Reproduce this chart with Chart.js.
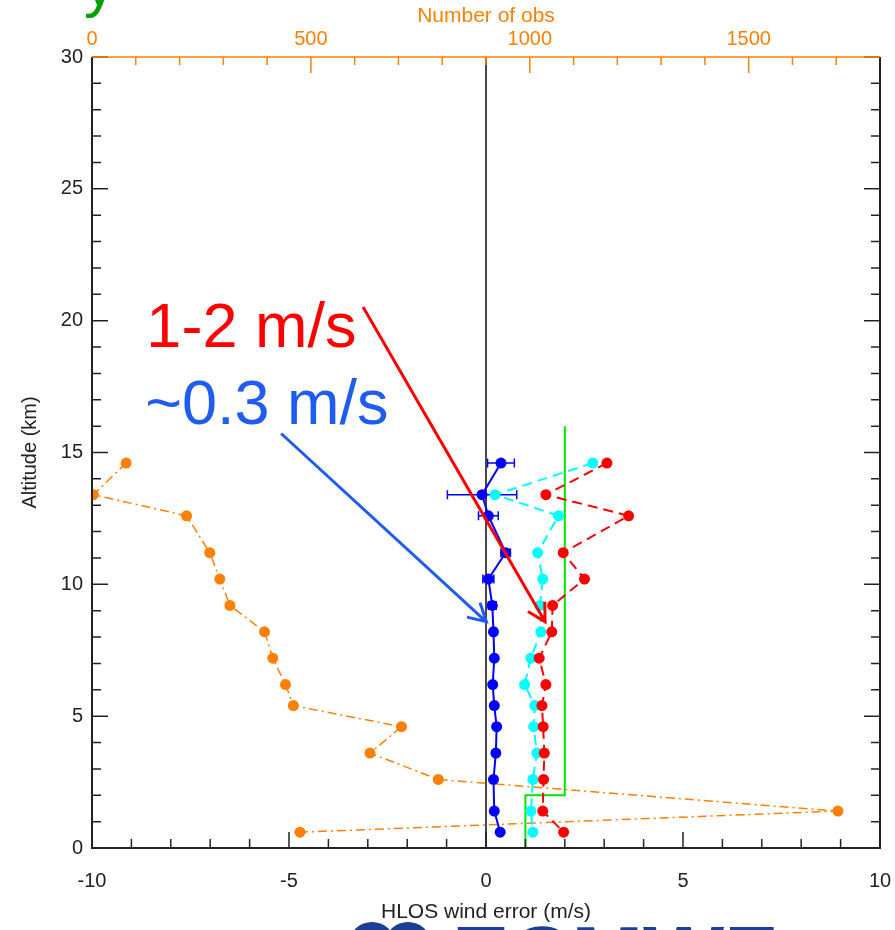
<!DOCTYPE html>
<html>
<head>
<meta charset="utf-8">
<script src="https://cdn.jsdelivr.net/npm/chart.js@4/dist/chart.umd.min.js"></script>
<style>
  html, body { margin: 0; padding: 0; background: #ffffff; }
  canvas { display: block; }
</style>
</head>
<body>
<canvas id="profile" width="895" height="930"></canvas>
<script>
// Altitude levels of the profile (km)
const altitudes = [14.6, 13.4, 12.6, 11.2, 10.2, 9.2, 8.2, 7.2, 6.2, 5.4, 4.6, 3.6, 2.6, 1.4, 0.6];
// Mean HLOS wind error (m/s) and its uncertainty
const meanError = [0.38, -0.10, 0.06, 0.50, 0.06, 0.16, 0.19, 0.21, 0.17, 0.21, 0.27, 0.25, 0.19, 0.21, 0.36];
const meanSpread = [0.34, 0.88, 0.25, 0.12, 0.14, 0.10, 0.06, 0.05, 0.05, 0.05, 0.05, 0.05, 0.05, 0.05, 0.05];
// Standard deviations of the two comparisons (m/s)
const stdCyan = [2.71, 0.23, 1.84, 1.31, 1.44, 1.37, 1.39, 1.14, 0.98, 1.24, 1.21, 1.29, 1.19, 1.14, 1.19];
const stdRed = [3.07, 1.52, 3.62, 1.96, 2.50, 1.69, 1.67, 1.35, 1.52, 1.42, 1.45, 1.48, 1.46, 1.44, 1.97];
// Number of observations per level (top axis)
const obsCount = [78, 3, 216, 269, 292, 315, 394, 413, 442, 460, 707, 635, 791, 1704, 475];
// Requirement step line
const reqX = [1, 1, 2, 2];
const reqY = [0, 2, 2, 16];
// Zero reference
const zeroX = [0, 0];
const zeroY = [0, 30];
// Axis ranges and labelled ticks
const errRange = [-10, 10];
const altRange = [0, 30];
const obsRange = [0, 1800];
const errLabelEvery = 5;
const altLabelEvery = 5;
const obsLabelEvery = 500;

const FONT = "'Liberation Sans', Arial, Helvetica, sans-serif";
const ORANGE = '#ff8000';
const BLUE_TXT = '#1e5cf2';

const pts = (xs, ys) => xs.map((x, i) => ({ x: x, y: ys[i] }));

// Horizontal error bars on the mean-error profile
const errorBars = {
  id: 'errorBars',
  beforeDatasetsDraw(chart) {
    const { ctx, scales: { x, y } } = chart;
    ctx.save();
    ctx.strokeStyle = '#0000ff';
    ctx.lineWidth = 1.5;
    meanError.forEach((m, i) => {
      const py = y.getPixelForValue(altitudes[i]);
      const x0 = x.getPixelForValue(m - meanSpread[i]);
      const x1 = x.getPixelForValue(m + meanSpread[i]);
      ctx.beginPath();
      ctx.moveTo(x0, py); ctx.lineTo(x1, py);
      ctx.moveTo(x0, py - 4.5); ctx.lineTo(x0, py + 4.5);
      ctx.moveTo(x1, py - 4.5); ctx.lineTo(x1, py + 4.5);
      ctx.stroke();
    });
    ctx.restore();
  }
};

// Frame with inward tick marks on all four sides
const frame = {
  id: 'frame',
  afterDraw(chart) {
    const { ctx, chartArea: a, scales: { x, x2, y } } = chart;
    ctx.save();
    ctx.lineWidth = 1.5;
    ctx.strokeStyle = '#222';
    ctx.beginPath();
    x.ticks.forEach(t => {
      const px = x.getPixelForValue(t.value);
      const len = t.value % errLabelEvery === 0 ? 16 : 9;
      ctx.moveTo(px, a.bottom); ctx.lineTo(px, a.bottom - len);
    });
    y.ticks.forEach(t => {
      const py = y.getPixelForValue(t.value);
      const len = t.value % altLabelEvery === 0 ? 16 : 9;
      ctx.moveTo(a.left, py); ctx.lineTo(a.left + len, py);
      ctx.moveTo(a.right, py); ctx.lineTo(a.right - len, py);
    });
    ctx.stroke();
    ctx.strokeStyle = ORANGE;
    ctx.beginPath();
    x2.ticks.forEach(t => {
      const px = x2.getPixelForValue(t.value);
      const len = t.value % obsLabelEvery === 0 ? 16 : 8;
      ctx.moveTo(px, a.top); ctx.lineTo(px, a.top + len);
    });
    ctx.stroke();
    ctx.lineWidth = 2;
    ctx.strokeStyle = '#222';
    ctx.beginPath();
    ctx.moveTo(a.left, a.top); ctx.lineTo(a.left, a.bottom);
    ctx.lineTo(a.right, a.bottom); ctx.lineTo(a.right, a.top);
    ctx.stroke();
    ctx.lineWidth = 1.5;
    ctx.strokeStyle = ORANGE;
    ctx.beginPath();
    ctx.moveTo(a.left, a.top); ctx.lineTo(a.right, a.top);
    ctx.stroke();
    ctx.restore();
  }
};

// Callout labels and arrows, placed in data coordinates
const callouts = [
  { text: '1-2 m/s', color: '#ff0000', tx: -8.62, ty: 19.0, from: [-3.12, 20.52], to: [1.50, 8.58] },
  { text: '~0.3 m/s', color: BLUE_TXT, tx: -8.65, ty: 16.08, from: [-5.2, 15.72], to: [0.01, 8.58] }
];
const annotations = {
  id: 'annotations',
  afterDraw(chart) {
    const { ctx, scales: { x, y } } = chart;
    ctx.save();
    ctx.font = '63px ' + FONT;
    ctx.textBaseline = 'alphabetic';
    ctx.textAlign = 'left';
    callouts.forEach(c => {
      ctx.fillStyle = c.color;
      ctx.fillText(c.text, x.getPixelForValue(c.tx), y.getPixelForValue(c.ty));
      const x0 = x.getPixelForValue(c.from[0]), y0 = y.getPixelForValue(c.from[1]);
      const x1 = x.getPixelForValue(c.to[0]), y1 = y.getPixelForValue(c.to[1]);
      const ang = Math.atan2(y1 - y0, x1 - x0);
      const head = 20, spread = 29 * Math.PI / 180;
      ctx.strokeStyle = c.color;
      ctx.lineWidth = 3;
      ctx.lineCap = 'butt';
      ctx.beginPath();
      ctx.moveTo(x0, y0); ctx.lineTo(x1, y1);
      ctx.moveTo(x1 - head * Math.cos(ang - spread), y1 - head * Math.sin(ang - spread));
      ctx.lineTo(x1, y1);
      ctx.lineTo(x1 - head * Math.cos(ang + spread), y1 - head * Math.sin(ang + spread));
      ctx.stroke();
    });
    ctx.restore();
  }
};

// Page furniture: heading remnant at the top, logo at the bottom
const furniture = {
  id: 'furniture',
  afterDraw(chart) {
    const { ctx } = chart;
    ctx.save();
    ctx.fillStyle = '#00a000';
    ctx.font = '62px ' + FONT;
    ctx.textBaseline = 'alphabetic';
    ctx.fillText('y', 84, 5);
    ctx.fillStyle = '#1b3f94';
    ctx.beginPath();
    ctx.ellipse(372, 942, 22, 20, 0, 0, Math.PI * 2);
    ctx.ellipse(408, 942, 22, 20, 0, 0, Math.PI * 2);
    ctx.fill();
    ctx.font = 'bold 86px ' + FONT;
    ctx.fillText('ECMWF', 452, 986);
    ctx.restore();
  }
};

const tickFont = { family: FONT, size: 20 };
const titleFont = { family: FONT, size: 21 };

// Drop the side padding Chart.js reserves for edge tick labels
const fixHorizontal = h => s => { s.height = h; s.paddingLeft = 0; s.paddingRight = 0; };

new Chart(document.getElementById('profile'), {
  type: 'scatter',
  data: {
    datasets: [
      { data: pts(stdRed, altitudes), showLine: true, borderColor: '#ff0000', backgroundColor: '#ff0000',
        borderWidth: 2, borderDash: [10, 6], pointRadius: 5.5, pointBorderWidth: 0, xAxisID: 'x', yAxisID: 'y' },
      { data: pts(stdCyan, altitudes), showLine: true, borderColor: '#00ffff', backgroundColor: '#00ffff',
        borderWidth: 2, borderDash: [10, 6], pointRadius: 5.5, pointBorderWidth: 0, xAxisID: 'x', yAxisID: 'y' },
      { data: pts(meanError, altitudes), showLine: true, borderColor: '#0000ff', backgroundColor: '#0000ff',
        borderWidth: 2, pointRadius: 5.5, pointBorderWidth: 0, xAxisID: 'x', yAxisID: 'y' },
      { data: pts(obsCount, altitudes), showLine: true, borderColor: ORANGE, backgroundColor: ORANGE,
        borderWidth: 1.5, borderDash: [9, 4, 2, 4], pointRadius: 5.5, pointBorderWidth: 0, xAxisID: 'x2', yAxisID: 'y' },
      { data: pts(reqX, reqY), showLine: true, borderColor: '#00e600', borderWidth: 2,
        pointRadius: 0, xAxisID: 'x', yAxisID: 'y' },
      { data: pts(zeroX, zeroY), showLine: true, borderColor: '#333333', borderWidth: 1.8,
        pointRadius: 0, xAxisID: 'x', yAxisID: 'y' }
    ]
  },
  options: {
    responsive: false,
    animation: false,
    devicePixelRatio: 1,
    layout: { padding: { left: 0, right: 15, top: 0, bottom: 0 } },
    plugins: { legend: { display: false }, tooltip: { enabled: false } },
    elements: { line: { tension: 0 } },
    scales: {
      x: {
        type: 'linear', position: 'bottom', min: errRange[0], max: errRange[1],
        grid: { display: false, drawTicks: false }, border: { display: false },
        ticks: { stepSize: 1, autoSkip: false, maxRotation: 0, padding: 21, color: '#222', font: tickFont,
          callback: v => (v % errLabelEvery === 0 ? String(v) : '') },
        title: { display: true, text: 'HLOS wind error (m/s)', color: '#222', font: titleFont, padding: { top: 0, bottom: 5 } },
        afterFit: fixHorizontal(82)
      },
      x2: {
        type: 'linear', position: 'top', min: obsRange[0], max: obsRange[1],
        grid: { display: false, drawTicks: false }, border: { display: false },
        ticks: { stepSize: 100, autoSkip: false, maxRotation: 0, padding: 6, color: ORANGE, font: tickFont,
          callback: v => (v % obsLabelEvery === 0 ? String(v) : '') },
        title: { display: true, text: 'Number of obs', color: ORANGE, font: titleFont, padding: { top: 4, bottom: 0 } },
        afterFit: fixHorizontal(57)
      },
      y: {
        type: 'linear', position: 'left', min: altRange[0], max: altRange[1],
        grid: { display: false, drawTicks: false }, border: { display: false },
        ticks: { stepSize: 1, autoSkip: false, padding: 9, color: '#222', font: tickFont,
          callback: v => (v % altLabelEvery === 0 ? String(v) : '') },
        title: { display: true, text: 'Altitude (km)', color: '#222', font: { family: FONT, size: 20 }, padding: { top: 18, bottom: 0 } },
        afterFit: s => { s.width = 92; }
      }
    }
  },
  plugins: [errorBars, frame, annotations, furniture]
});
</script>
</body>
</html>
